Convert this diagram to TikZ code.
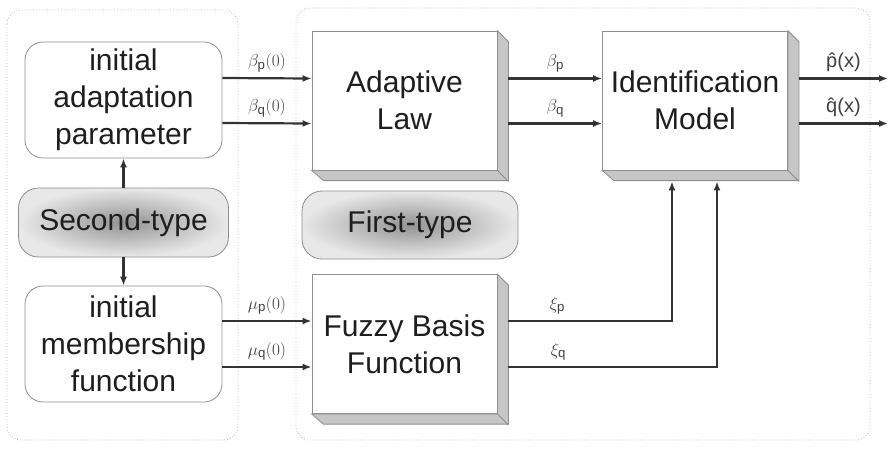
\documentclass[tikz,border=0pt]{standalone}
\usepackage{fontspec}
\setmainfont{Liberation Sans}
\usetikzlibrary{arrows.meta,calc}
\definecolor{linegray}{HTML}{333333}
\definecolor{rimgray}{HTML}{8E8E8E}
\definecolor{facegray}{HTML}{C6C6C6}
\definecolor{framegray}{HTML}{B4B4B4}
\definecolor{inkgray}{HTML}{1E1E1E}
\tikzset{
  initbox/.style={draw=rimgray, line width=0.8pt, rounded corners=18pt, minimum width=197pt, minimum height=116pt, align=center, text=inkgray, font=\fontsize{30}{37}\selectfont},
  typebox/.style={draw=rimgray, line width=0.8pt, rounded corners=20pt, inner color=gray!85, outer color=gray!18, text=inkgray, font=\fontsize{30}{37}\selectfont},
  blockbox/.style={draw=rimgray, line width=0.8pt, fill=white, minimum width=185pt, minimum height=139pt, align=center, text=inkgray, font=\fontsize{30}{37}\selectfont},
  flow/.style={draw=linegray, line width=2.2pt, -{Latex[length=9pt,width=7pt]}},
  sig/.style={text=black!75, font=\fontsize{19}{19}\selectfont, above=2pt},
  frame/.style={draw=framegray, line width=0.8pt, dotted, rounded corners=14pt},
}
\begin{document}
\begin{tikzpicture}[x=1pt,y=-1pt]
\useasboundingbox (0,0) rectangle (891,448);
% dotted frames
\draw[frame] (7,10) rectangle (238,440);
\draw[frame] (296,8) rectangle (870,440);
% left column
\node[initbox] (iap) at (123.5,100) {initial\\adaptation\\parameter};
\node[typebox, minimum width=210pt, minimum height=69pt] (sec) at (123.5,222.5) {Second-type};
\node[initbox] (imf) at (123.5,344) {initial\\membership\\function};
% blocks
\node[blockbox] (law) at (404.5,100.5) {Adaptive\\Law};
\node[typebox, minimum width=216pt, minimum height=68pt] (ftp) at (410,225) {First-type};
\node[blockbox] (fbf) at (404.5,344) {Fuzzy Basis\\Function};
\node[blockbox] (idm) at (695,100.5) {Identification\\Model};
\foreach \blk in {law,fbf,idm}{
  \filldraw[draw=rimgray, fill=facegray, line width=0.8pt] (\blk.north east) -- ++(11,11) -- ++(0,139) -- ++(-185,0) -- (\blk.south west) -- (\blk.south east) -- cycle;
  \draw[rimgray, line width=0.8pt] (\blk.south east) -- ++(11,11);
}
\coordinate (pout) at (888,78.5);
\coordinate (qout) at (888,123.5);
% connectors
\draw[flow] (sec.north) -- (iap.south);
\draw[flow] (sec.south) -- (imf.north);
\draw[flow] ([yshift=22pt]iap.east) -- node[sig]{$\beta_{\mathrm{p}}(0)$} ([yshift=22pt]law.west);
\draw[flow] ([yshift=-23pt]iap.east) -- node[sig]{$\beta_{\mathrm{q}}(0)$} ([yshift=-23pt]law.west);
\draw[flow] ([yshift=23pt]imf.east) -- node[sig]{$\mu_{\mathrm{p}}(0)$} ([yshift=23pt]fbf.west);
\draw[flow] ([yshift=-23pt]imf.east) -- node[sig]{$\mu_{\mathrm{q}}(0)$} ([yshift=-23pt]fbf.west);
\draw[flow] ([shift={(11pt,22pt)}]law.east) -- node[sig]{$\beta_{\mathrm{p}}$} ([yshift=22pt]idm.west);
\draw[flow] ([shift={(11pt,-23pt)}]law.east) -- node[sig]{$\beta_{\mathrm{q}}$} ([yshift=-23pt]idm.west);
\draw[flow] ([shift={(11pt,23pt)}]fbf.east) -| node[sig,pos=0.15]{$\xi_{\mathrm{p}}$} ([shift={(-23pt,-11pt)}]idm.south);
\draw[flow] ([shift={(11pt,-23pt)}]fbf.east) -| node[sig,pos=0.12]{$\xi_{\mathrm{q}}$} ([shift={(22pt,-11pt)}]idm.south);
\draw[flow] ([shift={(11pt,22pt)}]idm.east) -- node[sig,font=\fontsize{20}{20}\selectfont]{\^{p}(x)} (pout);
\draw[flow] ([shift={(11pt,-23pt)}]idm.east) -- node[sig,font=\fontsize{20}{20}\selectfont]{\^{q}(x)} (qout);
\end{tikzpicture}
\end{document}
